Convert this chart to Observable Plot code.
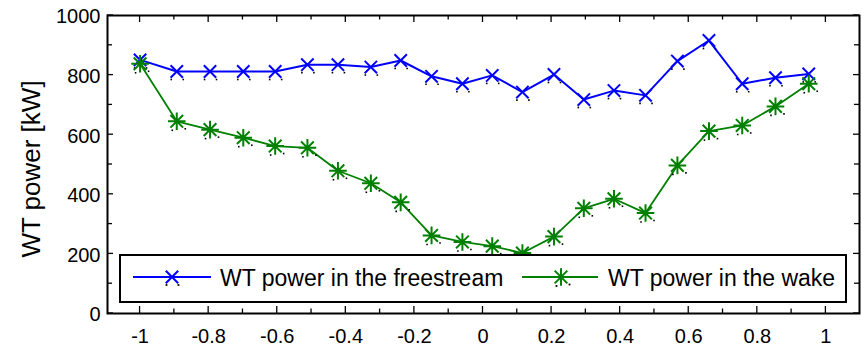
<!DOCTYPE html>
<html><head><meta charset="utf-8">
<script src="https://cdn.jsdelivr.net/npm/d3@7"></script>
<script src="https://cdn.jsdelivr.net/npm/@observablehq/plot@0.6"></script>
<style>
body{margin:0;background:#fff;}
#chart{width:862px;height:346px;}
</style></head><body><div id="chart"></div>
<script>
// ---- data ----
const positions = [-1, -0.893, -0.796, -0.699, -0.606, -0.512, -0.423, -0.327, -0.240, -0.150, -0.060, 0.027, 0.115, 0.207, 0.294, 0.382, 0.474, 0.567, 0.659, 0.756, 0.853, 0.950];
const freestream = [851, 812, 812, 812, 812, 835, 835, 827, 849, 796, 771, 799, 743, 802, 718, 748, 732, 847, 916, 771, 791, 804];
const wake = [838, 645, 617, 590, 562, 556, 479, 437, 373, 262, 240, 226, 203, 258, 353, 385, 337, 497, 612, 631, 695, 771];
const xTicks = [-1, -0.8, -0.6, -0.4, -0.2, 0, 0.2, 0.4, 0.6, 0.8, 1];
const xTickLabels = ["-1", "-0.8", "-0.6", "-0.4", "-0.2", "0", "0.2", "0.4", "0.6", "0.8", "1"];
const xMinorTicks = [-0.9, -0.7, -0.5, -0.3, -0.1, 0.1, 0.3, 0.5, 0.7, 0.9];
const yTicks = [0, 200, 400, 600, 800, 1000];
const yTickLabels = ["0", "200", "400", "600", "800", "1000"];
const yMinorTicks = [100, 300, 500, 700, 900];
const seriesNames = ["WT power in the freestream", "WT power in the wake"];
const seriesColors = ["#0000ff", "#008000"];
const yLabel = "WT power [kW]";

const free = positions.map((x, i) => ({x, y: freestream[i]}));
const wk = positions.map((x, i) => ({x, y: wake[i]}));

const timesSym = {draw(ctx, size) { const r = Math.sqrt(size / Math.PI); ctx.moveTo(-r, -r); ctx.lineTo(r, r); ctx.moveTo(-r, r); ctx.lineTo(r, -r); }};
const starSym = {draw(ctx, size) { const r = Math.sqrt(size / Math.PI); const d = r * 0.72;
  ctx.moveTo(-r, 0); ctx.lineTo(r, 0); ctx.moveTo(0, -r); ctx.lineTo(0, r);
  ctx.moveTo(-d, -d); ctx.lineTo(d, d); ctx.moveTo(-d, d); ctx.lineTo(d, -d); }};

const font = "'Liberation Sans', Arial, sans-serif";
const fmtX = d => xTickLabels[xTicks.indexOf(d)];
const fmtY = d => yTickLabels[yTicks.indexOf(d)];

const W = 862, H = 346, mL = 107, mR = 3, mT = 15, mB = 33;

const chart = Plot.plot({
  width: W, height: H,
  marginLeft: mL, marginRight: mR, marginTop: mT, marginBottom: mB,
  style: {fontFamily: font, background: "white", color: "black", overflow: "visible"},
  x: {domain: [-1.095, 1.098]},
  y: {domain: [0, 1000]},
  marks: [
    Plot.axisX(xTicks, {anchor: "bottom", tickSize: 0, tickPadding: 15, tickFormat: fmtX, fontSize: 20, label: null}),
    Plot.axisY(yTicks, {anchor: "left", tickSize: 0, tickPadding: 7, dy: 1.5, tickFormat: fmtY, fontSize: 20, label: null}),
    Plot.line(free, {x: "x", y: "y", stroke: seriesColors[0], strokeWidth: 2}),
    Plot.dot(free, {x: "x", y: "y", dx: -5.5, dy: 8, symbol: "square", r: 0.9, fill: "black"}),
    Plot.dot(free, {x: "x", y: "y", dx: 6.5, dy: 8, symbol: "square", r: 0.9, fill: "black"}),
    Plot.dot(free, {x: "x", y: "y", symbol: timesSym, r: 6.2, stroke: seriesColors[0], fill: "none", strokeWidth: 2}),
    Plot.line(wk, {x: "x", y: "y", stroke: seriesColors[1], strokeWidth: 1.8}),
    Plot.dot(wk, {x: "x", y: "y", dx: -4.5, dy: 9, symbol: "square", r: 0.9, fill: "black"}),
    Plot.dot(wk, {x: "x", y: "y", dx: 8.5, dy: 7.5, symbol: "square", r: 0.9, fill: "black"}),
    Plot.dot(wk, {x: "x", y: "y", symbol: starSym, r: 8.8, stroke: seriesColors[1], fill: "none", strokeWidth: 2}),
    Plot.frame({stroke: "black", strokeWidth: 2})
  ]
});
document.getElementById("chart").appendChild(chart);

const svg = d3.select(chart);
const sx = chart.scale("x"), sy = chart.scale("y");
const edgeL = mL, edgeR = W - mR, edgeT = mT, edgeB = H - mB;

// inward ticks on all four edges, placed through Plot's own scales
const tg = svg.append("g").attr("stroke", "black").attr("stroke-width", 1.3);
const addX = (vals, len) => vals.forEach(v => {
  const px = sx.apply(v);
  tg.append("line").attr("x1", px).attr("x2", px).attr("y1", edgeB).attr("y2", edgeB - len);
  tg.append("line").attr("x1", px).attr("x2", px).attr("y1", edgeT).attr("y2", edgeT + len);
});
const addY = (vals, len) => vals.forEach(v => {
  const py = sy.apply(v);
  tg.append("line").attr("y1", py).attr("y2", py).attr("x1", edgeL).attr("x2", edgeL + len);
  tg.append("line").attr("y1", py).attr("y2", py).attr("x1", edgeR).attr("x2", edgeR - len);
});
addX(xMinorTicks, 4.5);
addX(xTicks, 7);
addY(yMinorTicks, 5);
addY(yTicks, 6);

// y-axis title
svg.append("text")
  .attr("transform", "translate(31,169) rotate(-90)")
  .attr("text-anchor", "middle")
  .attr("dominant-baseline", "central")
  .attr("font-family", font)
  .attr("font-size", 26)
  .attr("fill", "black")
  .text(yLabel);

// legend
const lg = svg.append("g");
lg.append("rect").attr("x", 120).attr("y", 255).attr("width", 726).attr("height", 47)
  .attr("fill", "white").attr("stroke", "black").attr("stroke-width", 2);
const items = [
  {x0: 133, x1: 211, xm: 172, xt: 220, sym: timesSym, r: 6.2, dots: [[-5.5, 8], [6.5, 8]]},
  {x0: 522, x1: 598, xm: 561, xt: 608, sym: starSym, r: 8.8, dots: [[-4.5, 9], [8.5, 7.5]]}
];
items.forEach((it, i) => {
  const yy = 277;
  lg.append("line").attr("x1", it.x0).attr("x2", it.x1).attr("y1", yy).attr("y2", yy)
    .attr("stroke", seriesColors[i]).attr("stroke-width", 2);
  it.dots.forEach(([dx, dy]) => lg.append("rect").attr("x", it.xm + dx - 0.9).attr("y", yy + dy - 0.9)
    .attr("width", 1.8).attr("height", 1.8).attr("fill", "black"));
  lg.append("path").attr("transform", `translate(${it.xm},${yy})`)
    .attr("d", d3.symbol().type(it.sym).size(Math.PI * it.r * it.r)())
    .attr("fill", "none").attr("stroke", seriesColors[i]).attr("stroke-width", 2);
  lg.append("text").attr("x", it.xt).attr("y", 285.5)
    .attr("text-anchor", "start")
    .attr("font-family", font).attr("font-size", 23).attr("fill", "black")
    .text(seriesNames[i]);
});
</script></body></html>
